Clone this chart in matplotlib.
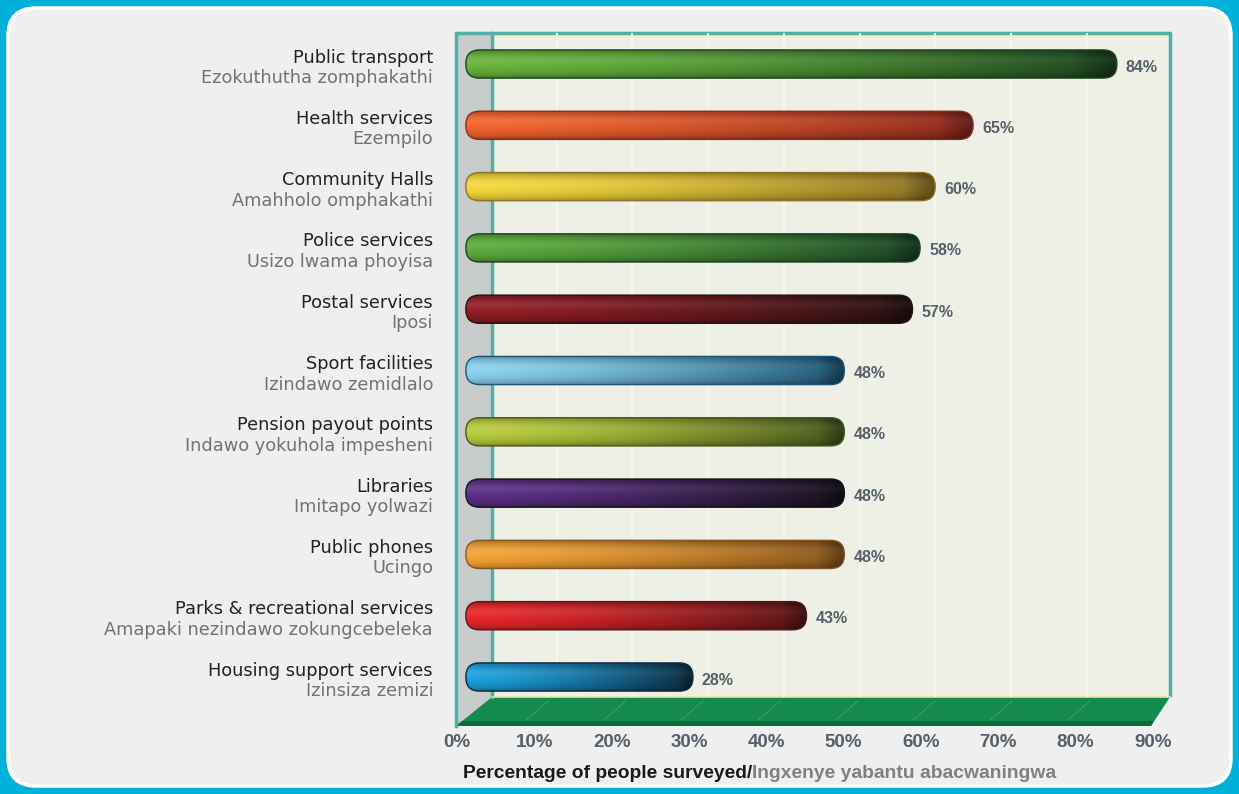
import matplotlib
matplotlib.use("Agg")
import matplotlib.pyplot as plt
import numpy as np
from matplotlib.patches import FancyBboxPatch, Polygon, Rectangle
from matplotlib.colors import to_rgb

# survey results, top to bottom
labels_en = ["Public transport", "Health services", "Community Halls", "Police services",
             "Postal services", "Sport facilities", "Pension payout points", "Libraries",
             "Public phones", "Parks & recreational services", "Housing support services"]
labels_zu = ["Ezokuthutha zomphakathi", "Ezempilo", "Amahholo omphakathi", "Usizo lwama phoyisa",
             "Iposi", "Izindawo zemidlalo", "Indawo yokuhola impesheni", "Imitapo yolwazi",
             "Ucingo", "Amapaki nezindawo zokungcebeleka", "Izinsiza zemizi"]
values = [84, 65, 60, 58, 57, 48, 48, 48, 48, 43, 28]
ticks = [0, 10, 20, 30, 40, 50, 60, 70, 80, 90]

# light end / dark end of each tube
bar_light = ["#68b43c", "#f4642f", "#f5d83c", "#5cac3c", "#921d24", "#8cd2ef",
             "#bacd3c", "#5c2f86", "#f5a334", "#e9262b", "#1ba2de"]
bar_dark = ["#1d4621", "#8e2a1e", "#8f7326", "#1b4527", "#261213", "#1c5575",
            "#47561e", "#17121b", "#87561f", "#581618", "#0e2b40"]

W, H = 1239, 794
fig = plt.figure(figsize=(W / 100, H / 100), dpi=100)
fig.patch.set_facecolor("#02b1da")

# pixel-space layer for the frame, walls and floor
bg = fig.add_axes([0, 0, 1, 1])
bg.set_xlim(0, W)
bg.set_ylim(H, 0)
bg.axis("off")
bg.add_patch(FancyBboxPatch((8, 8), W - 16, H - 16, boxstyle="round,pad=0,rounding_size=28",
                            fc="#eeefee", ec="white", lw=2.5))

teal = "#4fb0a8"
bx0, bx1, top, fy0, fy1 = 492, 1170, 33, 697, 726
bg.add_patch(Rectangle((bx0, top), bx1 - bx0, fy0 - top, fc="#eef0e5", ec="none"))
bg.add_patch(Polygon([(456, top), (bx0, top), (bx0, fy0), (456, fy1)], fc="#c8cccb", ec="none"))
bg.plot([456, bx1, bx1], [top, top, fy0], color=teal, lw=2.5, solid_capstyle="butt")
bg.plot([456, 456], [top, fy1], color=teal, lw=2.5)
bg.plot([bx0, bx0], [top, fy0], color=teal, lw=2.5)
bg.plot([bx0 + 3, bx1 - 3], [top + 3, top + 3], color="#f3e9b8", lw=0.8)

# floor slab
bg.add_patch(Polygon([(456, fy1), (bx0, fy0), (bx1, fy0), (1151, fy1)], fc="#148a4f", ec="none"))
bg.add_patch(Polygon([(462, fy1 - 5), (456, fy1), (1151, fy1), (1154, fy1 - 5)], fc="#0c6a3b", ec="none"))
bg.plot([bx0, bx1], [fy0, fy0], color="#e9e2a8", lw=1.2)

# bar area
left_px, right_px = 455, 1170
ax = fig.add_axes([left_px / W, (H - fy0) / H, (right_px - left_px) / W, (fy0 - top) / H])
ax.set_facecolor("none")
x0_px, px_per_pct = 481, 7.57
ax.set_xlim((left_px - x0_px) / px_per_pct, (right_px - x0_px) / px_per_pct)
ax.set_ylim(10.326, -0.506)
ax.axis("off")

for t in ticks[1:-1]:
    ax.axvline(t, color="#f8f8ee", lw=1.2, zorder=0)

y = np.arange(len(values))
bar_h = 0.46
cap_start = -2.0
bars = ax.barh(y, np.array(values) - cap_start, left=cap_start, height=bar_h, visible=False)

px_x = ax.transData.transform((1, 0))[0] - ax.transData.transform((0, 0))[0]
px_y = abs(ax.transData.transform((0, 1))[1] - ax.transData.transform((0, 0))[1])
asp = px_x / px_y

tv = np.linspace(0, 1, 40)[:, None]
th = np.linspace(0, 1, 300)[None, :]
shade = 0.6 + 0.4 * np.sin(np.pi * tv) ** 0.5
glow = 0.1 * np.exp(-((tv - 0.35) / 0.16) ** 2)

for rect, c1, c2 in zip(bars, bar_light, bar_dark):
    bx, by, bw, bh = rect.get_x(), rect.get_y(), rect.get_width(), rect.get_height()
    r = bh / asp / 2 * 0.97
    tube = FancyBboxPatch((bx, by), bw, bh, boxstyle=f"round,pad=0,rounding_size={r}",
                          mutation_aspect=asp, fc="none", ec=c2, lw=1.0, zorder=3)
    ax.add_patch(tube)
    a, b = np.array(to_rgb(c1)), np.array(to_rgb(c2))
    k = th ** 1.4
    col = a[None, None, :] * (1 - k[..., None]) + b[None, None, :] * k[..., None]
    end_fade = 1 - 0.35 * np.clip((th - 0.93) / 0.07, 0, 1)
    img = col * (shade * end_fade)[..., None]
    img = img + (1 - img) * (glow * (1 - 0.6 * th))[..., None]
    im = ax.imshow(np.clip(img, 0, 1), extent=(bx, bx + bw, by + bh, by), aspect="auto",
                   interpolation="bilinear", zorder=2)
    im.set_clip_path(tube)

ax.set_xlim((left_px - x0_px) / px_per_pct, (right_px - x0_px) / px_per_pct)
ax.set_ylim(10.326, -0.506)

for i, v in enumerate(values):
    ax.annotate(f"{v}%", xy=(v, i), xytext=(9, -3), textcoords="offset pixels",
                ha="left", va="center", fontsize=11.5, fontweight="bold",
                family="Liberation Sans", color="#56606b", zorder=4)

# two-language category labels
for i, (en, zu) in enumerate(zip(labels_en, labels_zu)):
    ax.annotate(en, xy=(433, i), xycoords=(bg.transData, ax.transData), xytext=(0, 1.5),
                textcoords="offset pixels", ha="right", va="baseline", fontsize=12.8,
                color="#222222", annotation_clip=False)
    ax.annotate(zu, xy=(433, i), xycoords=(bg.transData, ax.transData), xytext=(0, -19),
                textcoords="offset pixels", ha="right", va="baseline", fontsize=12.8,
                color="#727272", annotation_clip=False)

# percentage scale along the front edge of the floor
fx0, fx1 = 457, 1153
axf = fig.add_axes([fx0 / W, (H - fy1) / H, (fx1 - fx0) / W, 0.001])
axf.set_xlim(ticks[0], ticks[-1])
axf.set_facecolor("none")
for s in axf.spines.values():
    s.set_visible(False)
axf.set_yticks([])
axf.set_xticks(ticks, [f"{t}%" for t in ticks])
axf.tick_params(axis="x", length=0, pad=5.5, labelsize=13.5, labelcolor="#56606b")
for lab in axf.get_xticklabels():
    lab.set_fontweight("bold")
    lab.set_family("Liberation Sans")

# faint depth lines on the floor
for t in ticks[1:-1]:
    xf = fx0 + (fx1 - fx0) * t / ticks[-1]
    bg.plot([xf - 8, xf + 14], [fy1 - 6, fy0 + 4], color="#6fae5a", lw=0.8, alpha=0.5)

t1 = fig.text(463 / W, (H - 782) / H, "Percentage of people surveyed/", ha="left", va="bottom",
              fontsize=13.9, fontweight="bold", family="Liberation Sans", color="#1a1a1a")
bg.annotate("Ingxenye yabantu abacwaningwa", xy=(1, 0), xycoords=t1, ha="left", va="bottom",
            fontsize=13.9, fontweight="bold", family="Liberation Sans", color="#808080")

fig.savefig("out.png", dpi=100, facecolor=fig.get_facecolor())
